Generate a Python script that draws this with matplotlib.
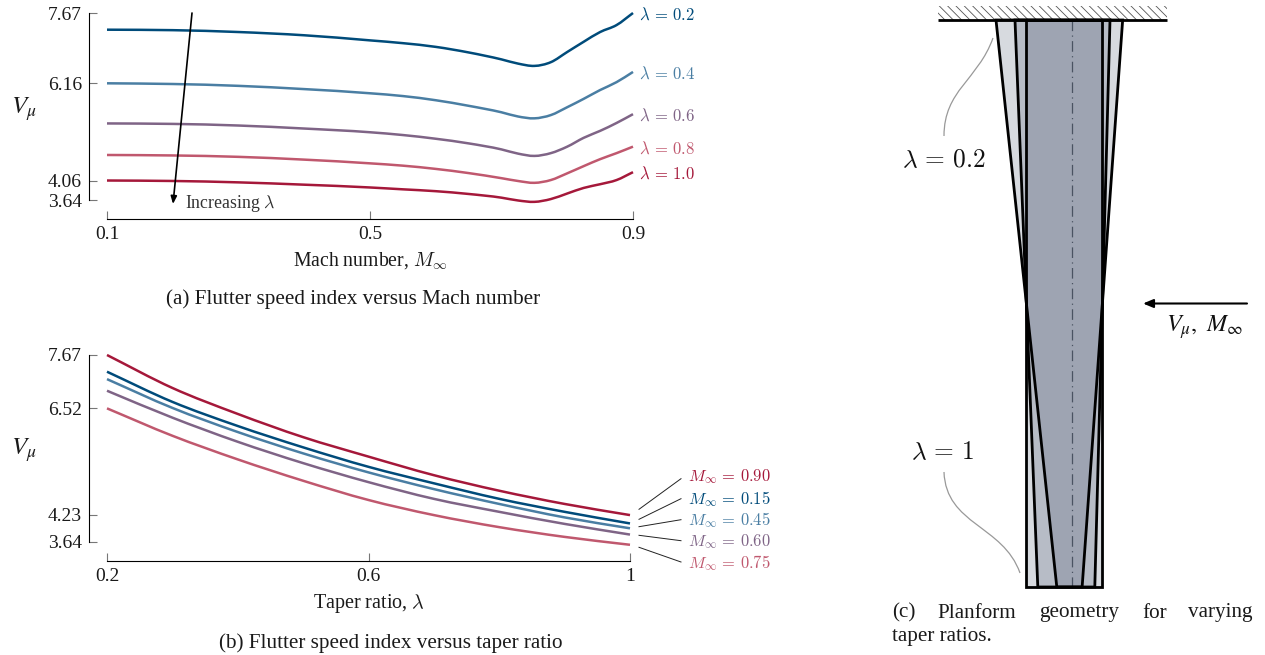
# -*- coding: utf-8 -*-
import numpy as np
import matplotlib
matplotlib.use('Agg')
import matplotlib.pyplot as plt
from matplotlib.patches import PathPatch, Polygon, Rectangle
from matplotlib.path import Path

plt.rcParams['font.family'] = ['Liberation Serif', 'DejaVu Serif']
plt.rcParams['mathtext.fontset'] = 'cm'
plt.rcParams['hatch.linewidth'] = 0.6

# panel (a): flutter speed index vs Mach number
mach = [0.1, 0.2, 0.3, 0.4, 0.5, 0.55, 0.6, 0.65, 0.7, 0.725, 0.75, 0.775, 0.8, 0.825, 0.85, 0.875, 0.9]
v_l02 = [7.31, 7.30, 7.26, 7.19, 7.08, 7.02, 6.94, 6.82, 6.67, 6.58, 6.53, 6.61, 6.83, 7.05, 7.26, 7.41, 7.67]
v_l04 = [6.155, 6.14, 6.10, 6.03, 5.94, 5.88, 5.79, 5.67, 5.53, 5.44, 5.40, 5.47, 5.64, 5.82, 6.01, 6.18, 6.40]
v_l06 = [5.29, 5.28, 5.245, 5.18, 5.10, 5.04, 4.96, 4.86, 4.73, 4.64, 4.59, 4.65, 4.79, 4.98, 5.13, 5.30, 5.49]
v_l08 = [4.61, 4.60, 4.57, 4.51, 4.43, 4.38, 4.31, 4.22, 4.11, 4.05, 4.01, 4.07, 4.215, 4.37, 4.52, 4.65, 4.79]
v_l10 = [4.06, 4.05, 4.02, 3.97, 3.91, 3.87, 3.83, 3.77, 3.69, 3.63, 3.60, 3.66, 3.78, 3.90, 3.98, 4.07, 4.24]
a_labels = ['0.2', '0.4', '0.6', '0.8', '1.0']
a_yticks = [3.64, 4.06, 6.16, 7.67]
a_xticks = [0.1, 0.5, 0.9]

# panel (b): flutter speed index vs taper ratio
taper = [0.2, 0.3, 0.4, 0.5, 0.6, 0.7, 0.8, 0.9, 1.0]
v_m90 = [7.67, 6.96, 6.40, 5.90, 5.48, 5.08, 4.745, 4.46, 4.22]
v_m15 = [7.31, 6.66, 6.14, 5.68, 5.26, 4.905, 4.57, 4.29, 4.04]
v_m45 = [7.15, 6.53, 6.01, 5.55, 5.14, 4.78, 4.46, 4.17, 3.935]
v_m60 = [6.90, 6.32, 5.80, 5.34, 4.93, 4.57, 4.29, 4.03, 3.80]
v_m75 = [6.52, 5.93, 5.42, 4.96, 4.545, 4.22, 3.96, 3.75, 3.58]
b_labels = ['0.90', '0.15', '0.45', '0.60', '0.75']
b_yticks = [3.64, 4.23, 6.52, 7.67]
b_xticks = [0.2, 0.6, 1.0]
b_xticklabels = ['0.2', '0.6', '1']

# panel (c): planform taper ratios
plan_taper = [0.2, 0.6, 1.0]

c_blue = '#004b7a'
c_steel = '#4a7ea3'
c_purple = '#7f6486'
c_rose = '#c0586e'
c_red = '#a5183a'
TXT = '#1a1a1a'
W, H = 1265, 655

fig = plt.figure(figsize=(W / 100, H / 100), dpi=100)


def px_axes(x0, x1, y0, y1):
    return fig.add_axes([x0 / W, 1 - y1 / H, (x1 - x0) / W, (y1 - y0) / H])


def style_axes(ax, xticks, yticks, xticklabels=None):
    for s in ['top', 'right']:
        ax.spines[s].set_visible(False)
    ax.spines['left'].set_position(('outward', 13))
    ax.spines['bottom'].set_position(('outward', 14))
    ax.spines['left'].set_bounds(min(yticks), max(yticks))
    ax.spines['bottom'].set_bounds(min(xticks), max(xticks))
    ax.spines['left'].set_linewidth(0.8)
    ax.spines['bottom'].set_linewidth(0.8)
    ax.set_xticks(xticks)
    ax.set_yticks(yticks)
    ax.set_yticklabels(['%.2f' % t for t in yticks])
    ax.set_xticklabels(xticklabels if xticklabels else [str(t) for t in xticks])
    ax.tick_params(axis='both', direction='in', length=5.8, width=0.8, color='#777777',
                   labelsize=14, labelcolor=TXT)
    ax.tick_params(axis='y', pad=5)
    ax.tick_params(axis='x', pad=5)
    ax.patch.set_visible(False)


def smooth_curve(ax, xs, ys, color):
    # bezier through the read points so the line is not faceted
    xs = np.array(xs)
    ys = np.array(ys)
    slope = np.gradient(ys, xs)
    verts = [(xs[0], ys[0])]
    codes = [Path.MOVETO]
    for i in range(len(xs) - 1):
        d = (xs[i + 1] - xs[i]) / 3
        verts += [(xs[i] + d, ys[i] + slope[i] * d),
                  (xs[i + 1] - d, ys[i + 1] - slope[i + 1] * d),
                  (xs[i + 1], ys[i + 1])]
        codes += [Path.CURVE4] * 3
    ax.add_patch(PathPatch(Path(verts, codes), fill=False, edgecolor=color, lw=1.8, clip_on=False,
                           joinstyle='round', capstyle='butt'))


# (a)
ax_a = px_axes(107, 633, 13, 200)
for vals, col in zip([v_l02, v_l04, v_l06, v_l08, v_l10], [c_blue, c_steel, c_purple, c_rose, c_red]):
    smooth_curve(ax_a, mach, vals, col)
ax_a.set_xlim(0.1, 0.9)
ax_a.set_ylim(3.64, 7.67)
style_axes(ax_a, a_xticks, a_yticks)

# (b)
ax_b = px_axes(107, 630, 355, 542)
for vals, col in zip([v_m90, v_m15, v_m45, v_m60, v_m75], [c_red, c_blue, c_steel, c_purple, c_rose]):
    smooth_curve(ax_b, taper, vals, col)
ax_b.set_xlim(0.2, 1.0)
ax_b.set_ylim(3.64, 7.67)
style_axes(ax_b, b_xticks, b_yticks, b_xticklabels)

# (c) chord in mean chord units, span 0 at root, 1 at tip
ax_c = px_axes(938, 1167, 6, 587)
ax_c.set_xlim(-1.763, 1.25)
ax_c.set_ylim(1, -14 / 567)
ax_c.axis('off')
for lam in plan_taper:
    root = 2 / (1 + lam)
    tip = root * lam
    corners = [(-0.6 * root, 0), (0.4 * root, 0), (0.4 * tip, 1), (-0.6 * tip, 1)]
    ax_c.add_patch(Polygon(corners, closed=True, facecolor='#3a4862', alpha=0.2, edgecolor='none', zorder=1))
for lam in plan_taper:
    root = 2 / (1 + lam)
    tip = root * lam
    corners = [(-0.6 * root, 0), (0.4 * root, 0), (0.4 * tip, 1), (-0.6 * tip, 1)]
    ax_c.add_patch(Polygon(corners, closed=True, fill=False, edgecolor='black', lw=2.0, zorder=3,
                           joinstyle='miter', clip_on=False))
ax_c.plot([0, 0], [0, 1], color='#4a5362', lw=0.9, dashes=(8.5, 3.5, 1, 3.5), zorder=2)
ax_c.add_patch(Rectangle((-1.763, -14 / 567), 3.013, 14 / 567, facecolor='white', edgecolor='#555555',
                         hatch='\\\\\\\\', lw=0, zorder=1))
ax_c.plot([-1.763, 1.25], [0, 0], color='black', lw=2.0, zorder=4, clip_on=False, solid_capstyle='butt')

# overlay in pixel coordinates for labels and annotations
ov = fig.add_axes([0, 0, 1, 1], zorder=10)
ov.set_xlim(0, W)
ov.set_ylim(H, 0)
ov.axis('off')


def label(x, y, s, size=15.2, color=TXT, ha='left', **kw):
    ov.text(x, y, s, fontsize=size, color=color, ha=ha, va='center', **kw)


# axis names
label(24, 109, r'$V_{\mu}$', size=18, ha='center', math_fontfamily='stix')
label(24, 450, r'$V_{\mu}$', size=18, ha='center', math_fontfamily='stix')
label(370, 261, r'Mach number, $M_{\infty}$', size=14.2, ha='center')
label(369, 603.5, r'Taper ratio, $\lambda$', size=14.5, ha='center')
label(353, 299.5, '(a) Flutter speed index versus Mach number', ha='center')
label(391, 643.5, '(b) Flutter speed index versus taper ratio', ha='center')

# curve labels (a)
for s, y, col in zip(a_labels, [15.5, 74.5, 116.5, 149.5, 174.5], [c_blue, c_steel, c_purple, c_rose, c_red]):
    label(639, y, r'$\lambda\,=\,%s$' % s, size=12, color=col)
ov.annotate('', xy=(173, 204), xytext=(192, 13),
            arrowprops=dict(arrowstyle='-|>,head_length=0.45,head_width=0.18', color='black', lw=1.2,
                            shrinkA=0, shrinkB=0))
label(185, 204, r'Increasing $\lambda$', size=12.8, color='#333333')

# curve labels (b) with leader lines
b_label_y = [477, 499, 520, 542, 563]
lead_start = [509.3, 519.3, 526.7, 535.3, 547.3]
lead_end = [478.7, 498.7, 519.7, 540.7, 562]
for s, y, y0, y1, col in zip(b_labels, b_label_y, lead_start, lead_end,
                             [c_red, c_blue, c_steel, c_purple, c_rose]):
    label(688.5, y, r'$M_{\infty}\,=\,%s$' % s, size=11.9, color=col)
    ov.plot([639, 681], [y0, y1], color='#222222', lw=0.7)

# annotations (c)
label(944, 160.5, r'$\lambda\,=\,0.2$', size=18.3, ha='center', color='#111111')
label(943, 453, r'$\lambda\,=\,1$', size=18.3, ha='center', color='#111111')
ov.add_patch(PathPatch(Path([(993, 38), (978, 80), (944, 90), (944, 136)],
                            [Path.MOVETO, Path.CURVE4, Path.CURVE4, Path.CURVE4]),
                       fill=False, edgecolor='#999999', lw=0.9))
ov.add_patch(PathPatch(Path([(944, 472), (946, 525), (1003, 525), (1020, 573)],
                            [Path.MOVETO, Path.CURVE4, Path.CURVE4, Path.CURVE4]),
                       fill=False, edgecolor='#999999', lw=0.9))
ov.annotate('', xy=(1143, 303.5), xytext=(1247, 303.5),
            arrowprops=dict(arrowstyle='-|>,head_length=0.6,head_width=0.25', color='black', lw=1.5,
                            shrinkA=0, shrinkB=0))
label(1204, 327, r'$V_{\mu},\ M_{\infty}$', size=17.5, ha='center', color='#111111', math_fontfamily='stix')

# justified caption (c)
for word, x in zip(['(c)', 'Planform', 'geometry', 'for', 'varying'], [892, 937, 1039, 1142, 1188]):
    label(x, 613, word)
label(892, 636.5, 'taper ratios.')

fig.savefig('out.png', dpi=100)
